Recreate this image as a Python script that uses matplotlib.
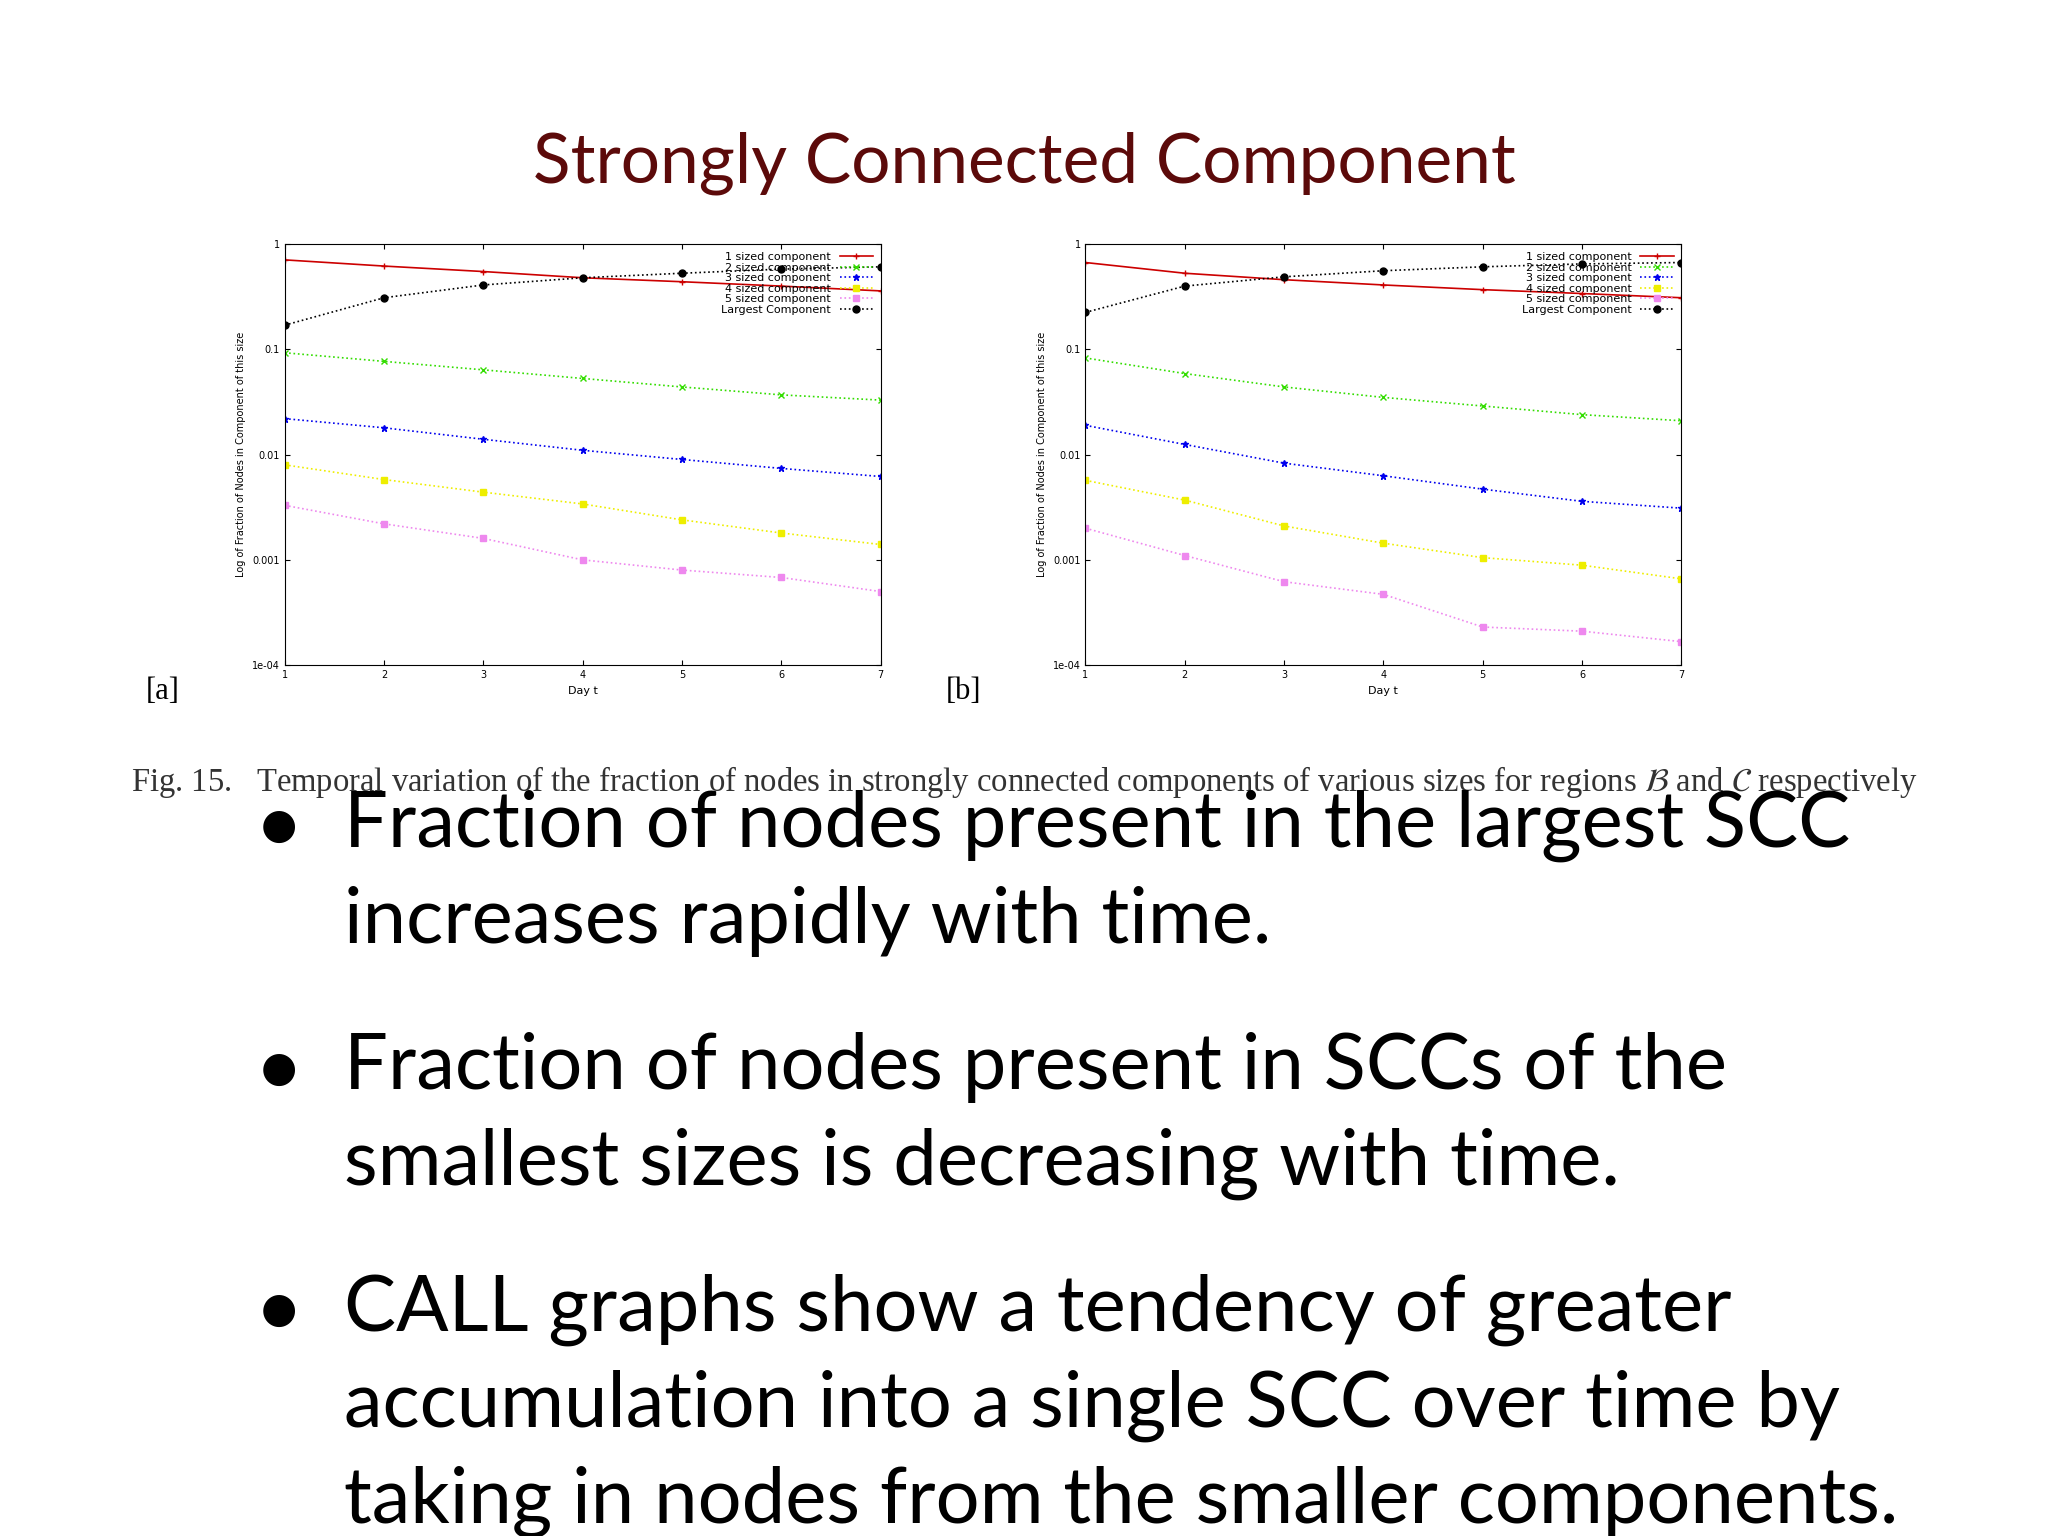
import matplotlib
matplotlib.use("Agg")
import matplotlib.pyplot as plt
import numpy as np

days = [1, 2, 3, 4, 5, 6, 7]
labels = ["1 sized component", "2 sized component", "3 sized component",
          "4 sized component", "5 sized component", "Largest Component"]

a_s1 = [0.71, 0.62, 0.55, 0.48, 0.44, 0.40, 0.36]
a_s2 = [0.093, 0.077, 0.064, 0.053, 0.044, 0.037, 0.033]
a_s3 = [0.022, 0.018, 0.014, 0.011, 0.009, 0.0074, 0.0062]
a_s4 = [0.008, 0.0058, 0.0044, 0.0034, 0.0024, 0.0018, 0.0014]
a_s5 = [0.0033, 0.0022, 0.0016, 0.0010, 0.0008, 0.00068, 0.0005]
a_big = [0.17, 0.31, 0.41, 0.48, 0.53, 0.58, 0.61]

b_s1 = [0.67, 0.53, 0.46, 0.41, 0.37, 0.34, 0.31]
b_s2 = [0.083, 0.059, 0.044, 0.035, 0.029, 0.024, 0.021]
b_s3 = [0.019, 0.0125, 0.0083, 0.0063, 0.0047, 0.0036, 0.0031]
b_s4 = [0.0057, 0.0037, 0.0021, 0.00144, 0.00105, 0.00089, 0.00066]
b_s5 = [0.0020, 0.0011, 0.00062, 0.00047, 0.00023, 0.00021, 0.000167]
b_big = [0.225, 0.40, 0.49, 0.56, 0.61, 0.65, 0.67]

styles = [("#cc0000", "+", "-"), ("#33dd00", "x", ":"), ("#0000ee", "*", ":"),
          ("#eeee00", "s", ":"), ("#ee88ee", "s", ":"), ("#000000", "o", ":")]

fig = plt.figure(figsize=(20.48, 15.36), dpi=100)
fig.patch.set_facecolor("white")

def panel(left, series, tag):
    ax = fig.add_axes([left, 0.567, 0.291, 0.274])
    for vals, lab, (c, m, ls) in zip(series, labels, styles):
        ax.plot(days, vals, color=c, marker=m, linestyle=ls, lw=1.2, ms=5, label=lab)
    ax.set_yscale("log")
    ax.set_ylim(1e-4, 1)
    ax.set_xlim(1, 7)
    ax.set_xticks(days)
    ax.set_yticks([1e-4, 1e-3, 1e-2, 1e-1, 1])
    ax.set_yticklabels(["1e-04", "0.001", "0.01", "0.1", "1"])
    ax.tick_params(labelsize=7, direction="in", top=True, right=True)
    ax.minorticks_off()
    ax.set_xlabel("Day t", fontsize=8)
    ax.set_ylabel("Log of Fraction of Nodes in Component of this size", fontsize=7)
    ax.legend(loc="upper right", fontsize=8, frameon=False, handlelength=3,
              labelspacing=0.05, borderpad=0.2, markerfirst=False)
    fig.text(left - 0.068, 0.545, tag, fontsize=22, family="Liberation Serif")

panel(0.139, [a_s1, a_s2, a_s3, a_s4, a_s5, a_big], "[a]")
panel(0.530, [b_s1, b_s2, b_s3, b_s4, b_s5, b_big], "[b]")

fig.text(0.5, 0.894, "Strongly Connected Component", ha="center", va="center",
         fontsize=50, color="#5c0a0a", family="Lato")
fig.text(0.064, 0.491, "Fig. 15.   Temporal variation of the fraction of nodes in strongly connected components of various sizes for regions $\\mathcal{B}$ and $\\mathcal{C}$ respectively",
         fontsize=23.5, family="Liberation Serif", color="#333333", va="center")

bullets = [
    (0.462, "Fraction of nodes present in the largest SCC\nincreases rapidly with time."),
    (0.304, "Fraction of nodes present in SCCs of the\nsmallest sizes is decreasing with time."),
    (0.147, "CALL graphs show a tendency of greater\naccumulation into a single SCC over time by\ntaking in nodes from the smaller components."),
]
for y, t in bullets:
    fig.text(0.136, y, "\u25CF", fontsize=30, family="DejaVu Sans", va="center", ha="center")
    fig.text(0.168, y + 0.024, t, fontsize=56, family="Lato", va="top", ha="left",
             linespacing=1.42)

fig.savefig("out.png", dpi=100)
